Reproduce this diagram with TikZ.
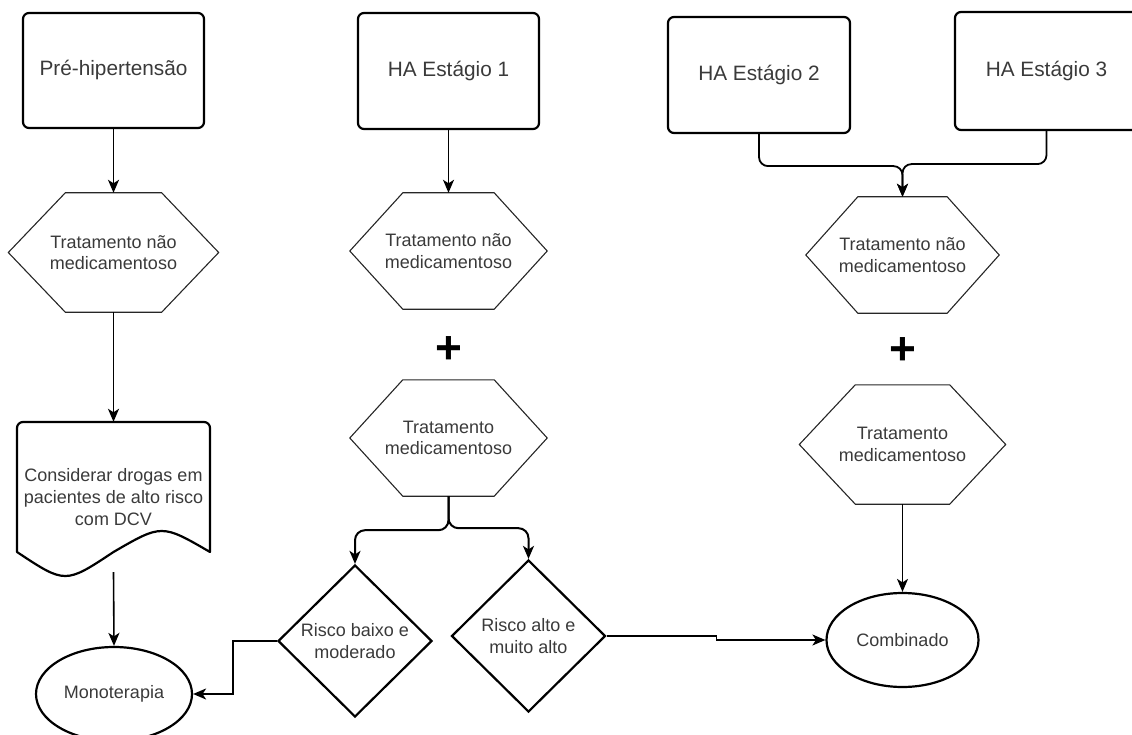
\documentclass[tikz,border=0pt]{standalone}
\usepackage{fontspec}
\setmainfont{Liberation Sans}
\usetikzlibrary{arrows.meta,shapes.geometric}

\definecolor{txt}{HTML}{3A3A3A}

% outline of a flat-topped hexagon around a (borderless) node
\newcommand\hexoutline[2]{%
  \draw[hexline] (#1.west) -- ([xshift=#2]#1.north west) -- ([xshift=-#2]#1.north east)
    -- (#1.east) -- ([xshift=-#2]#1.south east) -- ([xshift=#2]#1.south west) -- cycle;}

\begin{document}
\begin{tikzpicture}[x=1pt,y=-1pt,
  stagebox/.style={draw, line width=2.2pt, rounded corners=6pt, inner sep=0pt,
    minimum width=182pt, minimum height=116pt, text=txt,
    font=\fontsize{20.8}{25}\selectfont},
  hexnode/.style={inner sep=0pt, align=center, text=txt,
    font=\fontsize{18}{21.7}\selectfont},
  hexline/.style={draw=black!85, line width=1.1pt, line join=miter},
  decision/.style={diamond, draw, line width=2.2pt, aspect=1, inner sep=0pt,
    minimum width=154pt, minimum height=152pt, align=center, text=txt,
    font=\fontsize{18}{21.7}\selectfont},
  outcome/.style={ellipse, draw, line width=2.2pt, inner sep=0pt,
    minimum width=155pt, minimum height=94pt, text=txt,
    font=\fontsize{18}{21.7}\selectfont},
  docline/.style={draw, line width=2.2pt, line join=round},
  plussign/.style={inner sep=0pt, font=\fontsize{46}{46}\selectfont\bfseries},
  conn/.style={draw, line width=1.6pt, -{Stealth[length=13pt,width=11pt,inset=3.5pt]}},
  branch/.style={conn, line width=2pt, rounded corners=10pt},
]
\useasboundingbox (0,0) rectangle (1132,735);
\clip (0,0) rectangle (1132,735);

% ---- stage boxes ----
\node[stagebox, minimum width=181pt, minimum height=115pt] (pre) at (113.5,70.5) {Pré-hipertensão};
\node[stagebox, minimum width=181pt] (ha1) at (448.5,71) {HA Estágio 1};
\node[stagebox] (ha2) at (759,75) {HA Estágio 2};
\node[stagebox, minimum width=183pt, minimum height=118pt] (ha3) at (1046.5,71) {HA Estágio 3};

% ---- treatment hexagons ----
\node[hexnode, minimum width=210pt, minimum height=119pt] (nm1) at (113.5,252.5) {Tratamento não\\medicamentoso};
\hexoutline{nm1}{57pt}
\node[hexnode, minimum width=197pt, minimum height=116pt] (nm2) at (448.5,251) {Tratamento não\\medicamentoso};
\hexoutline{nm2}{53pt}
\node[hexnode, minimum width=197pt, minimum height=116pt] (med2) at (448.5,438) {Tratamento\\medicamentoso};
\hexoutline{med2}{53pt}
\node[hexnode, minimum width=193pt, minimum height=116pt] (nm3) at (902.5,255) {Tratamento não\\medicamentoso};
\hexoutline{nm3}{52pt}
\node[hexnode, minimum width=206pt, minimum height=119pt] (med3) at (902.5,444.5) {Tratamento\\medicamentoso};
\hexoutline{med3}{56pt}

% ---- plus signs ----
\node[plussign] (plusA) at (448.5,350) {+};
\node[plussign] (plusB) at (902.5,351) {+};

% ---- document shape ----
\node[hexnode, minimum width=193pt, minimum height=150pt] (doc) at (113.5,497)
  {Considerar drogas em\\pacientes de alto risco\\com DCV};
\draw[docline] (17,552) -- (17,428) arc[start angle=180, end angle=270, radius=6]
  -- (204,422) arc[start angle=270, end angle=360, radius=6]
  -- (210,552) .. controls (161.75,524) .. (113.5,552)
  .. controls (65.25,584) .. (17,552) -- cycle;

% ---- decisions ----
\node[decision] (low) at (355,641) {Risco baixo e\\moderado};
\node[decision] (high) at (528.5,636) {Risco alto e\\muito alto};

% ---- outcomes ----
\node[outcome, minimum width=156pt] (mono) at (114,694) {Monoterapia};
\node[outcome, minimum width=152pt] (comb) at (902.5,640) {Combinado};

% ---- connectors ----
\draw[conn] (pre) -- (nm1);
\draw[conn] (nm1) -- (doc);
\draw[conn] (doc.south) -- (mono.north);
\draw[conn] (ha1) -- (nm2);
\draw[branch] (med2.south) -- ++(0,34) -| (low.north);
\draw[branch] (med2.south) -- ++(0,32) -| (high.north);
\draw[conn] (low.west) -- ++(-44,0) |- (mono.east);
\draw[conn] (high.east) -- ++(110,0) |- (comb.west);
\draw[conn, line width=1.8pt, rounded corners=9pt] (ha2.south) -- ++(0,32) -| (nm3.north);
\draw[conn, line width=1.8pt, rounded corners=9pt] (ha3.south) -- ++(0,33) -| (nm3.north);
\draw[conn] (med3) -- (comb);
\end{tikzpicture}
\end{document}
